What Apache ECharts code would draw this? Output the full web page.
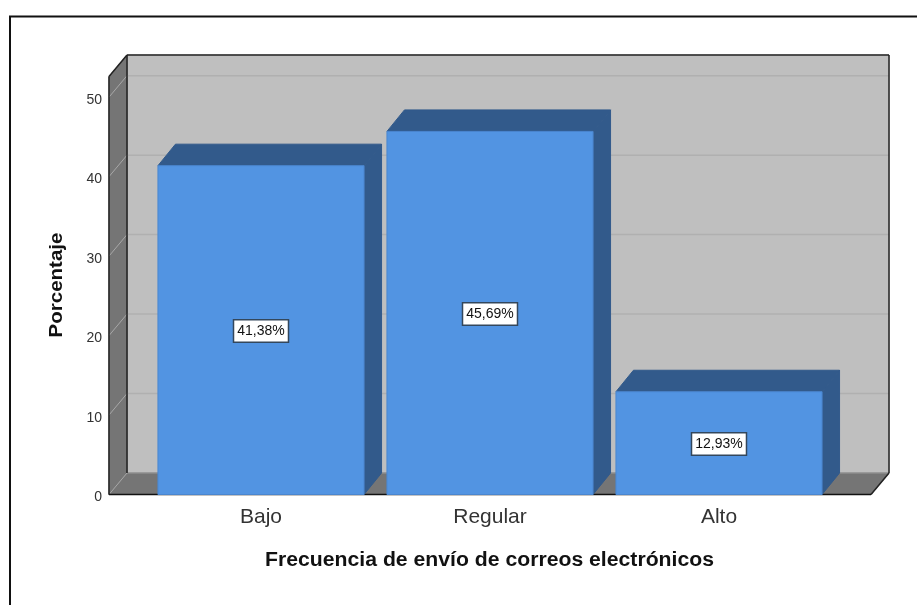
<!DOCTYPE html>
<html>
<head>
<meta charset="utf-8">
<style>
html, body { margin: 0; padding: 0; background: #fff; }
#main { width: 917px; height: 605px; }
</style>
<script src="https://cdn.jsdelivr.net/npm/echarts@6/dist/echarts.min.js"></script>
</head>
<body>
<div id="main"></div>
<script>
var categories = ['Bajo', 'Regular', 'Alto'];
var percentages = [41.38, 45.69, 12.93];
var yTicks = [10, 20, 30, 40, 50];
var yTop = 52.6;
var xTitle = 'Frecuencia de envío de correos electrónicos';
var yTitle = 'Porcentaje';

var depthX = 18, depthY = 21.5;
var barDepthX = 17.5;
var fontName = '"Liberation Sans", Arial, sans-serif';

var myChart = echarts.init(document.getElementById('main'));

function poly(points, fill, stroke, width) {
	return {
		type: 'polygon',
		shape: { points: points },
		style: { fill: fill, stroke: stroke || fill, lineWidth: width || 1 }
	};
}
function seg(x1, y1, x2, y2, color, width) {
	return {
		type: 'line',
		shape: { x1: x1, y1: y1, x2: x2, y2: y2 },
		style: { stroke: color, lineWidth: width || 1 }
	};
}

// paredes y suelo del grafico 3D
function renderWalls(params, api) {
	var cs = params.coordSys;
	var x0 = cs.x - 37.5, x1 = cs.x + cs.width + 37.5;
	var yb = api.coord([0, 0])[1];
	var yt = api.coord([0, yTop])[1];
	var kids = [];
	kids.push(poly([[x0 + depthX, yt - depthY], [x1 + depthX, yt - depthY], [x1 + depthX, yb - depthY], [x0 + depthX, yb - depthY]], '#bfbfbf'));
	kids.push(poly([[x0, yt], [x0 + depthX, yt - depthY], [x0 + depthX, yb - depthY], [x0, yb]], '#757575'));
	kids.push(poly([[x0, yb], [x0 + depthX, yb - depthY], [x1 + depthX, yb - depthY], [x1, yb]], '#757575'));
	yTicks.forEach(function (t) {
		var y = api.coord([0, t])[1];
		kids.push(seg(x0, y, x0 + depthX, y - depthY, '#a8a8a8'));
		kids.push(seg(x0 + depthX, y - depthY, x1 + depthX, y - depthY, '#b0b0b0', 1.5));
	});
	kids.push(seg(x0, yb, x0 + depthX, yb - depthY, '#a8a8a8'));
	kids.push(seg(x0 + depthX, yb - depthY, x1 + depthX, yb - depthY, '#9a9a9a'));
	kids.push(seg(x0, yt, x0 + depthX, yt - depthY, '#222', 1.5));
	kids.push(seg(x0 + depthX, yt - depthY, x1 + depthX, yt - depthY, '#222', 1.5));
	kids.push(seg(x0, yt, x0, yb, '#222', 1.5));
	kids.push(seg(x0 + depthX, yt - depthY, x0 + depthX, yb - depthY, '#222', 1.5));
	kids.push(seg(x1 + depthX, yt - depthY, x1 + depthX, yb - depthY, '#222', 1.5));
	kids.push(seg(x1, yb, x1 + depthX, yb - depthY, '#222', 1.5));
	kids.push(seg(x0, yb, x1, yb, '#111', 1.5));
	return { type: 'group', children: kids };
}

function renderBar(params, api) {
	var idx = api.value(0), val = api.value(1);
	var c = api.coord([idx, val]);
	var base = api.coord([idx, 0]);
	var w = api.size([1, 0])[0] * 0.9;
	var l = c[0] - w / 2, r = c[0] + w / 2, t = c[1], b = base[1];
	var label = val.toFixed(2).replace('.', ',') + '%';
	return {
		type: 'group',
		children: [
			poly([[l, t], [l + barDepthX, t - depthY], [r + barDepthX, t - depthY], [r, t]], '#325a8b'),
			poly([[r, t], [r + barDepthX, t - depthY], [r + barDepthX, b - depthY], [r, b]], '#325a8b'),
			poly([[l, t], [r, t], [r, b], [l, b]], '#5294e2', '#4a86cf'),
			{
				type: 'text',
				x: c[0],
				y: (t + b) / 2 + 1,
				style: {
					text: label,
					fill: '#111',
					font: '14px ' + fontName,
					align: 'center',
					verticalAlign: 'middle',
					backgroundColor: '#fff',
					borderColor: '#33475c',
					borderWidth: 1.5,
					padding: [4, 3, 3, 3]
				}
			}
		]
	};
}

var option = {
	animation: false,
	backgroundColor: '#fff',
	textStyle: { fontFamily: fontName },
	graphic: [{
		type: 'polyline',
		shape: { points: [[10, 605], [10, 16.5], [917, 16.5]] },
		style: { stroke: '#111', lineWidth: 2, fill: 'none' },
		z: 10
	}, {
		type: 'text',
		x: 489.5,
		y: 560,
		scaleX: 1.06,
		style: {
			text: xTitle,
			fill: '#111',
			font: 'bold 20px ' + fontName,
			align: 'center',
			verticalAlign: 'middle'
		}
	}, {
		type: 'text',
		x: 57.5,
		y: 285,
		rotation: Math.PI / 2,
		scaleX: 1.14,
		style: {
			text: yTitle,
			fill: '#111',
			font: 'bold 18px ' + fontName,
			align: 'center',
			verticalAlign: 'middle'
		}
	}],
	grid: { left: 146.5, right: 83.5, top: 76.5, bottom: 110.5 },
	xAxis: {
		type: 'category',
		data: categories,
		axisLine: { show: false },
		axisTick: { show: false },
		axisLabel: { color: '#333', fontSize: 21, margin: 12, fontFamily: fontName }
	},
	yAxis: {
		type: 'value',
		min: 0,
		max: yTop,
		interval: 10,
		axisLine: { show: false },
		axisTick: { show: false },
		splitLine: { show: false },
		axisLabel: {
			showMaxLabel: false,
			color: '#333',
			fontSize: 14,
			margin: 44.5,
			verticalAlign: 'top',
			lineHeight: 6,
			fontFamily: fontName
		}
	},
	series: [{
		type: 'custom',
		silent: true,
		clip: false,
		z: 1,
		renderItem: renderWalls,
		data: [[0, 0]],
		encode: { x: 0, y: 1 }
	}, {
		type: 'custom',
		silent: true,
		clip: false,
		z: 2,
		renderItem: renderBar,
		data: percentages.map(function (v, i) { return [i, v]; }),
		encode: { x: 0, y: 1 }
	}]
};
myChart.setOption(option);
</script>
</body>
</html>
